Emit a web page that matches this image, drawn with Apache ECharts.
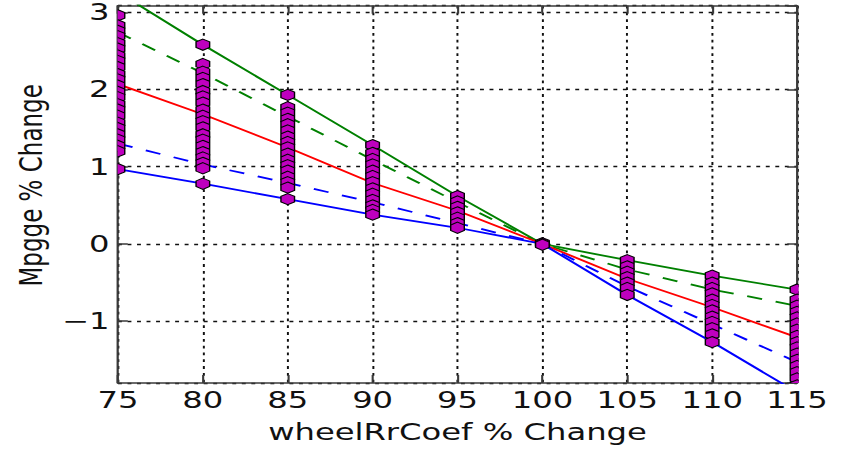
<!DOCTYPE html>
<html>
<head>
<meta charset="utf-8">
<script src="https://cdn.jsdelivr.net/npm/echarts@6/dist/echarts.min.js"></script>
<style>
  html, body { margin: 0; padding: 0; background: #fff; overflow: hidden; }
  #wrap { width: 842px; height: 449px; overflow: hidden; }
  #chart { width: 601px; height: 449px; transform: scaleX(1.401); transform-origin: 0 0; }
</style>
</head>
<body>
<div id="wrap"><div id="chart"></div></div>
<script>
// x categories (wheelRrCoef % change)
const xValues = [75, 80, 85, 90, 95, 100, 105, 110, 115];

// summary lines (Mpgge % change)
const maxLine   = [3.26, 2.58, 1.93, 1.28, 0.62, 0, -0.21, -0.41, -0.59]; // green solid
const upperDash = [2.74, 2.21, 1.65, 1.09, 0.54, 0, -0.33, -0.59, -0.80]; // green dashed
const meanLine  = [2.07, 1.68, 1.25, 0.79, 0.43, 0, -0.45, -0.82, -1.21]; // red solid
const lowerDash = [1.30, 1.03, 0.79, 0.54, 0.27, 0, -0.55, -1.04, -1.53]; // blue dashed
const minLine   = [0.97, 0.78, 0.58, 0.38, 0.21, 0, -0.66, -1.27, -1.92]; // blue solid

// individual points per column
const pts75  = [3.26, 2.96, 2.83, 2.76, 2.69, 2.60, 2.53, 2.44, 2.37, 2.29, 2.20, 2.13, 2.05, 1.97, 1.90, 1.81, 1.74, 1.66, 1.57, 1.50, 1.42, 1.35, 1.27, 1.20, 0.97];
const pts80  = [2.58, 2.33, 2.23, 2.15, 2.07, 1.98, 1.91, 1.83, 1.74, 1.66, 1.59, 1.51, 1.42, 1.35, 1.27, 1.19, 1.12, 1.05, 0.98, 0.78];
const pts85  = [1.93, 1.77, 1.70, 1.62, 1.55, 1.47, 1.39, 1.32, 1.25, 1.17, 1.09, 1.02, 0.95, 0.87, 0.80, 0.73, 0.58];
const pts90  = [1.28, 1.18, 1.10, 1.03, 0.95, 0.88, 0.80, 0.72, 0.65, 0.57, 0.50, 0.44, 0.38];
const pts95  = [0.62, 0.55, 0.48, 0.41, 0.34, 0.27, 0.21];
const pts100 = [0.01, 0, -0.01];
const pts105 = [-0.21, -0.29, -0.36, -0.43, -0.50, -0.57, -0.66];
const pts110 = [-0.41, -0.50, -0.57, -0.64, -0.72, -0.79, -0.86, -0.94, -1.01, -1.09, -1.17, -1.27];
const pts115 = [-0.59, -0.72, -0.80, -0.88, -0.95, -1.03, -1.11, -1.19, -1.27, -1.34, -1.42, -1.50, -1.58, -1.66, -1.74, -1.83, -1.92];

const columns = [pts75, pts80, pts85, pts90, pts95, pts100, pts105, pts110, pts115];
const points = [];
columns.forEach((col, i) => col.forEach(v => points.push([xValues[i], v])));

const pair = arr => arr.map((v, i) => [xValues[i], v]);

const FONT = 'DejaVu Sans';
const AX = '#3a3a3a';
const gridLine = { show: true, lineStyle: { color: '#111', width: 1.4, type: [2.8, 4] } };

const chart = echarts.init(document.getElementById('chart'), null, { renderer: 'svg' });
chart.setOption({
  animation: false,
  backgroundColor: '#fff',
  grid: { left: 84.2, right: 32.1, top: 5.7, bottom: 64.7, containLabel: false },
  xAxis: [{
    type: 'value', min: 75, max: 115, interval: 5, position: 'bottom',
    axisLine: { show: true, onZero: false, lineStyle: { color: AX, width: 1.6 } },
    axisTick: { show: true, inside: true, length: 8, lineStyle: { color: AX, width: 1.5 } },
    axisLabel: { show: true, margin: 6, fontSize: 23, fontFamily: FONT, color: '#111' },
    splitLine: gridLine,
    name: 'wheelRrCoef % Change', nameLocation: 'middle', nameGap: 38,
    nameTextStyle: { fontSize: 23, fontFamily: FONT, color: '#111' }
  }, {
    type: 'value', min: 75, max: 115, interval: 5, position: 'top',
    axisLine: { show: true, onZero: false, lineStyle: { color: AX, width: 1.6 } },
    axisTick: { show: true, inside: true, length: 8, lineStyle: { color: AX, width: 1.5 } },
    axisLabel: { show: false },
    splitLine: { show: false }
  }],
  yAxis: [{
    type: 'value', min: -1.8, max: 3.085, splitNumber: 5, position: 'left',
    axisLine: { show: true, onZero: false, lineStyle: { color: AX, width: 1.6 } },
    axisTick: { show: true, inside: true, length: 7, lineStyle: { color: AX, width: 1.5 } },
    axisLabel: {
      show: true, margin: 6, fontSize: 23, fontFamily: FONT, color: '#111',
      showMinLabel: false, showMaxLabel: false,
      formatter: v => (v < 0 ? '\u2212' + Math.abs(v) : String(v))
    },
    splitLine: gridLine,
    name: 'Mpgge % Change', nameLocation: 'middle', nameGap: 50, nameRotate: 90,
    nameTextStyle: { fontSize: 23, fontFamily: FONT, color: '#111', padding: [0, 0, 0, 18] }
  }, {
    type: 'value', min: -1.8, max: 3.085, splitNumber: 5, position: 'right',
    axisLine: { show: true, onZero: false, lineStyle: { color: AX, width: 1.6 } },
    axisTick: { show: true, inside: true, length: 7, lineStyle: { color: AX, width: 1.5 } },
    axisLabel: { show: false },
    splitLine: { show: false }
  }],
  series: [
    { type: 'line', data: pair(maxLine), symbol: 'none', clip: true, z: 3,
      lineStyle: { color: '#008000', width: 1.8 } },
    { type: 'line', data: pair(upperDash), symbol: 'none', clip: true, z: 3,
      lineStyle: { color: '#008000', width: 1.8, type: [11, 10] } },
    { type: 'line', data: pair(meanLine), symbol: 'none', clip: true, z: 3,
      lineStyle: { color: '#ff0000', width: 1.8 } },
    { type: 'line', data: pair(lowerDash), symbol: 'none', clip: true, z: 3,
      lineStyle: { color: '#0000ff', width: 1.8, type: [11, 10] } },
    { type: 'line', data: pair(minLine), symbol: 'none', clip: true, z: 3,
      lineStyle: { color: '#0000ff', width: 1.8 } },
    {
      type: 'custom', data: points, clip: true, z: 5,
      renderItem: (params, api) => {
        const p = api.coord([api.value(0), api.value(1)]);
        const r = 5.6, w = r * Math.sqrt(3) / 2;
        return {
          type: 'polygon',
          shape: { points: [
            [p[0], p[1] - r], [p[0] + w, p[1] - r / 2], [p[0] + w, p[1] + r / 2],
            [p[0], p[1] + r], [p[0] - w, p[1] + r / 2], [p[0] - w, p[1] - r / 2]
          ] },
          style: { fill: '#bf00bf', stroke: '#000', lineWidth: 1 }
        };
      }
    }
  ]
});
</script>
</body>
</html>
